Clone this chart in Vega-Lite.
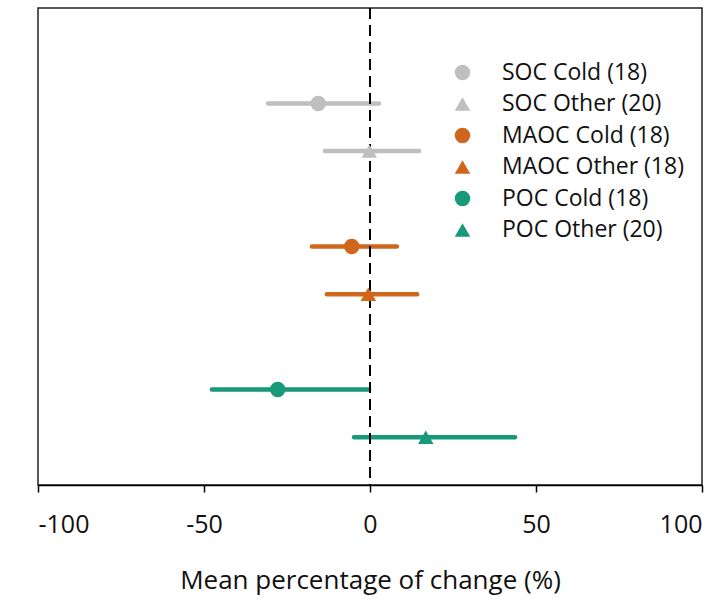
{
  "$schema": "https://vega.github.io/schema/vega-lite/v6.json",
  "width": 664,
  "height": 477,
  "autosize": {"type": "none"},
  "padding": {"left": 38, "top": 8, "right": 26, "bottom": 116},
  "background": "white",
  "config": {
    "view": {"stroke": "#222", "strokeWidth": 1.5},
    "font": "Open Sans"
  },
  "data": {
    "values": [
      {"label": "SOC Cold (18)", "pos": 2, "mean": -15.6, "lo": -30.7, "hi": 2.7},
      {"label": "SOC Other (20)", "pos": 3, "mean": -0.2, "lo": -13.6, "hi": 14.8},
      {"label": "MAOC Cold (18)", "pos": 5, "mean": -5.5, "lo": -17.5, "hi": 8.1},
      {"label": "MAOC Other (18)", "pos": 6, "mean": -0.5, "lo": -13.0, "hi": 14.2},
      {"label": "POC Cold (18)", "pos": 8, "mean": -27.8, "lo": -47.6, "hi": -0.3},
      {"label": "POC Other (20)", "pos": 9, "mean": 16.8, "lo": -4.8, "hi": 43.7}
    ]
  },
  "layer": [
    {
      "mark": {"type": "rule", "strokeWidth": 4.5, "strokeCap": "round"},
      "encoding": {
        "x": {"field": "lo", "type": "quantitative", "scale": {"domain": [-100, 100], "nice": false}},
        "x2": {"field": "hi"},
        "y": {"field": "pos", "type": "quantitative", "scale": {"domain": [0, 10], "nice": false, "zero": false, "reverse": true}, "axis": null},
        "color": {"field": "label", "type": "nominal",
          "scale": {"domain": ["SOC Cold (18)", "SOC Other (20)", "MAOC Cold (18)", "MAOC Other (18)", "POC Cold (18)", "POC Other (20)"],
                    "range": ["#BFBFBF", "#BFBFBF", "#D0661B", "#D0661B", "#17997A", "#17997A"]}}
      }
    },
    {
      "mark": {"type": "rule", "color": "black", "strokeWidth": 2, "strokeDash": [11, 6]},
      "encoding": {"x": {"datum": 0, "type": "quantitative"}}
    },
    {
      "mark": {"type": "point", "filled": true, "opacity": 1, "size": 240},
      "encoding": {
        "x": {"field": "mean", "type": "quantitative",
          "axis": {
            "values": [-100, -50, 0, 50, 100],
            "labelExpr": "replace(datum.label, '\u2212', '-')",
            "title": "Mean percentage of change (%)",
            "grid": false,
            "domainColor": "black", "domainWidth": 1.5,
            "tickColor": "black", "tickSize": 7, "tickWidth": 1.5,
            "labelFontSize": 25, "labelColor": "#111", "labelPadding": 20,
            "titleFontSize": 26, "titleFontWeight": "normal", "titleColor": "#111", "titlePadding": 30
          }},
        "y": {"field": "pos", "type": "quantitative"},
        "color": {"field": "label", "type": "nominal",
          "legend": {
            "title": null, "orient": "none", "legendX": 413, "legendY": 53, "padding": 0,
            "labelFontSize": 23, "labelColor": "#111", "labelOffset": 28, "labelLimit": 400,
            "symbolSize": 240, "symbolOpacity": 1, "rowPadding": 7.5, "symbolStrokeWidth": 0
          }},
        "shape": {"field": "label", "type": "nominal",
          "scale": {"domain": ["SOC Cold (18)", "SOC Other (20)", "MAOC Cold (18)", "MAOC Other (18)", "POC Cold (18)", "POC Other (20)"],
                    "range": ["circle", "triangle-up", "circle", "triangle-up", "circle", "triangle-up"]}}
      }
    }
  ]
}
